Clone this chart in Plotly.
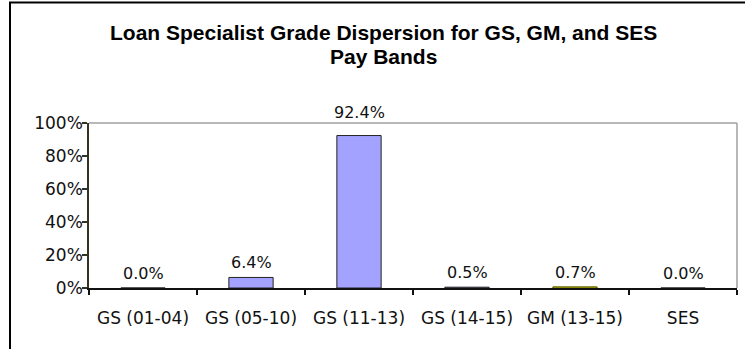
import plotly.graph_objects as go

# Grade bands and share of loan specialists in each (percent)
categories = ["GS (01-04)", "GS (05-10)", "GS (11-13)", "GS (14-15)", "GM (13-15)", "SES"]
shares_pct = [0.0, 6.4, 92.4, 0.5, 0.7, 0.0]
y_tick_vals = [0, 0.2, 0.4, 0.6, 0.8, 1.0]
y_tick_text = ["0%", "20%", "40%", "60%", "80%", "100%"]
title_lines = ["Loan Specialist Grade Dispersion for GS, GM, and SES", "Pay Bands"]

# Styling
bar_colors = ["#A3A3FF", "#A3A3FF", "#A3A3FF", "#A3A3FF", "#E0E000", "#A3A3FF"]
bar_edges = ["#222222", "#222222", "#222222", "#222222", "#5A5A00", "#222222"]
label_font = dict(family="DejaVu Sans", size=16, color="#111111")
title_font = dict(family="Liberation Sans", size=21, color="#000000", weight="bold")
W, H = 746, 349
L, R, T, B = 89, 9, 123, 61
plot_w, plot_h = W - L - R, H - T - B

values = [v / 100 for v in shares_pct]


def px_to_paper_x(px):
    return (px - L) / plot_w


def px_to_paper_y(py):
    return (H - B - py) / plot_h


fig = go.Figure(
    go.Bar(
        x=categories,
        y=values,
        width=0.41,
        marker=dict(color=bar_colors, line=dict(color=bar_edges, width=1)),
        hoverinfo="skip",
    )
)

# Value labels above each bar
for cat, v, raw in zip(categories, values, shares_pct):
    fig.add_annotation(
        x=cat, y=v, xref="x", yref="y",
        text=f"{raw:.1f}%",
        showarrow=False,
        yanchor="bottom",
        yshift=12 if v > 0.5 else 3,
        font=label_font,
    )

# Two-line chart title
for line, py in zip(title_lines, [32, 56]):
    fig.add_annotation(
        x=px_to_paper_x(383), y=px_to_paper_y(py), xref="paper", yref="paper",
        text=f"<b>{line}</b>", showarrow=False,
        xanchor="center", yanchor="middle", font=title_font,
    )

# Plot-area border (grey): top and right edges
grey = dict(color="#A0A0A0", width=1.5)
fig.add_shape(type="line", xref="paper", yref="paper", x0=0, y0=1, x1=1, y1=1, line=grey, layer="below")
fig.add_shape(type="line", xref="paper", yref="paper", x0=1, y0=0, x1=1, y1=1, line=grey, layer="below")

# Chart outer frame: left and top edges
frame = dict(color="#000000", width=2)
fig.add_shape(type="line", xref="paper", yref="paper",
              x0=px_to_paper_x(10), x1=px_to_paper_x(10),
              y0=px_to_paper_y(H), y1=px_to_paper_y(2.5), line=frame)
fig.add_shape(type="line", xref="paper", yref="paper",
              x0=px_to_paper_x(9), x1=px_to_paper_x(W - 1),
              y0=px_to_paper_y(2.5), y1=px_to_paper_y(2.5), line=frame)

fig.update_layout(
    width=W, height=H,
    margin=dict(l=L, r=R, t=T, b=B, pad=0),
    paper_bgcolor="white",
    plot_bgcolor="white",
    showlegend=False,
)

fig.update_xaxes(
    type="category",
    showline=True, linecolor="#111111", linewidth=1.5,
    ticks="outside", tickson="boundaries", ticklen=5, tickcolor="#111111", tickwidth=1.5,
    ticklabelstandoff=14,
    showgrid=False, zeroline=False,
    tickfont=dict(family="DejaVu Sans", size=17, color="#111111"),
    fixedrange=True,
)
fig.update_yaxes(
    range=[0, 1],
    tickvals=y_tick_vals, ticktext=y_tick_text,
    showline=True, linecolor="#333322", linewidth=1.5,
    ticks="outside", ticklen=5, tickcolor="#333322", tickwidth=1.5,
    ticklabelstandoff=-4,
    showgrid=False, zeroline=False,
    tickfont=dict(family="DejaVu Sans", size=17, color="#111111"),
    fixedrange=True,
)

fig.write_html("out.html", config={"displayModeBar": False})
